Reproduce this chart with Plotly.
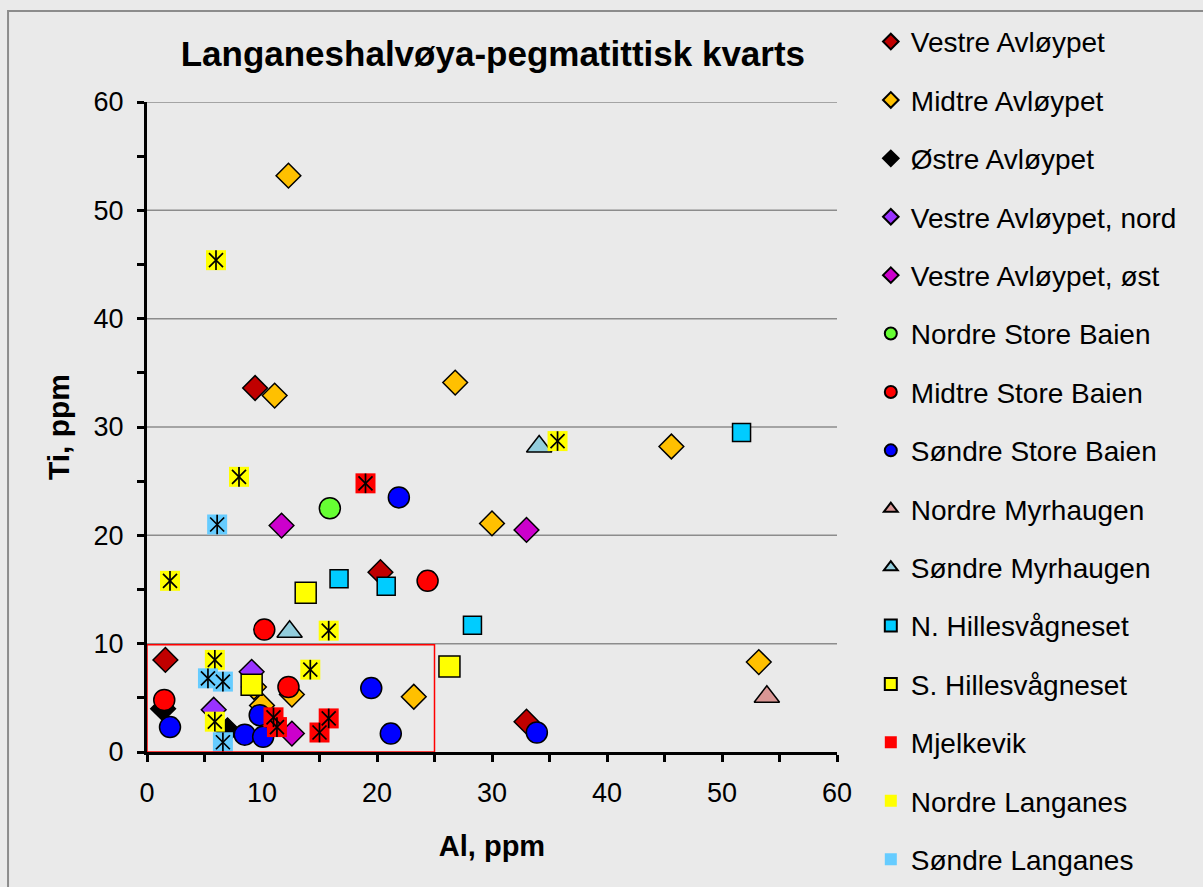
import plotly.graph_objects as go

# Al (x) and Ti (y), ppm, per locality
vestre_avl_x = [9.4, 20.3, 1.6, 33.0]
vestre_avl_y = [33.6, 16.6, 8.5, 2.8]

midtre_avl_x = [12.3, 11.1, 26.8, 45.6, 30.0, 53.2, 23.2, 9.3, 10.0, 12.6]
midtre_avl_y = [53.2, 32.9, 34.1, 28.2, 21.1, 8.3, 5.1, 6.0, 4.3, 5.3]

ostre_avl_x = [1.4, 7.0]
ostre_avl_y = [4.0, 2.0]

vestre_nord_x = [9.1, 5.8]
vestre_nord_y = [7.4, 3.9]

vestre_ost_x = [11.7, 33.0, 12.6]
vestre_ost_y = [20.9, 20.5, 1.7]

nordre_sb_x = [15.9]
nordre_sb_y = [22.5]

midtre_sb_x = [24.4, 10.2, 1.5, 12.3]
midtre_sb_y = [15.8, 11.3, 4.8, 6.0]

sondre_sb_x = [21.9, 19.5, 21.2, 33.9, 2.0, 8.5, 10.1, 9.8]
sondre_sb_y = [23.5, 5.9, 1.7, 1.8, 2.3, 1.6, 1.4, 3.4]

nordre_myr_x = [53.9]
nordre_myr_y = [5.1]

sondre_myr_x = [34.1, 12.4]
sondre_myr_y = [28.2, 11.1]

n_hilles_x = [51.7, 16.7, 20.8, 28.3]
n_hilles_y = [29.5, 16.0, 15.3, 11.7]

s_hilles_x = [13.8, 26.3, 9.1]
s_hilles_y = [14.7, 7.9, 6.2]

mjelkevik_x = [19.0, 11.0, 11.3, 15.8, 15.0]
mjelkevik_y = [24.8, 3.2, 2.3, 3.1, 1.8]

nordre_lang_x = [6.0, 8.0, 2.0, 35.7, 15.8, 5.9, 14.2, 5.9]
nordre_lang_y = [45.4, 25.4, 15.8, 28.7, 11.2, 8.5, 7.6, 2.8]

sondre_lang_x = [6.1, 5.3, 6.6, 6.6]
sondre_lang_y = [21.0, 6.8, 6.5, 0.9]

# ticks every 5, labels every 10
tick_vals = [0, 5, 10, 15, 20, 25, 30, 35, 40, 45, 50, 55, 60]
tick_text = ["0", "", "10", "", "20", "", "30", "", "40", "", "50", "", "60"]
grid_vals = [10, 20, 30, 40, 50, 60]
box_x = [0, 25]
box_y = [0, 9.9]

# name, x, y, symbol, colour, size, asterisk overlay
series = [
    ("Vestre Avløypet", vestre_avl_x, vestre_avl_y, "diamond", "#C00000", 19, False),
    ("Midtre Avløypet", midtre_avl_x, midtre_avl_y, "diamond", "#FFC000", 19, False),
    ("Østre Avløypet", ostre_avl_x, ostre_avl_y, "diamond", "#000000", 19, False),
    ("Vestre Avløypet, nord", vestre_nord_x, vestre_nord_y, "diamond", "#9933FF", 19, False),
    ("Vestre Avløypet, øst", vestre_ost_x, vestre_ost_y, "diamond", "#CC00CC", 19, False),
    ("Nordre Store Baien", nordre_sb_x, nordre_sb_y, "circle", "#66FF33", 21, False),
    ("Midtre Store Baien", midtre_sb_x, midtre_sb_y, "circle", "#FF0000", 21, False),
    ("Søndre Store Baien", sondre_sb_x, sondre_sb_y, "circle", "#0000FF", 21, False),
    ("Nordre Myrhaugen", nordre_myr_x, nordre_myr_y, "triangle-up", "#D99694", 22, False),
    ("Søndre Myrhaugen", sondre_myr_x, sondre_myr_y, "triangle-up", "#92CDDC", 22, False),
    ("N. Hillesvågneset", n_hilles_x, n_hilles_y, "square", "#00CCFF", 18, False),
    ("S. Hillesvågneset", s_hilles_x, s_hilles_y, "square", "#FFFF00", 21, False),
    ("Mjelkevik", mjelkevik_x, mjelkevik_y, "square", "#FF0000", 20, True),
    ("Nordre Langanes", nordre_lang_x, nordre_lang_y, "square", "#FFFF00", 20, True),
    ("Søndre Langanes", sondre_lang_x, sondre_lang_y, "square", "#66CCFF", 20, True),
]

fig = go.Figure()

# horizontal gridlines every 10 (drawn under the markers)
for g in grid_vals:
    fig.add_hline(y=g, line=dict(color="#8C8C8C", width=1.5), layer="below")

for name, xs, ys, symbol, color, size, star in series:
    fig.add_trace(go.Scatter(
        x=xs, y=ys, mode="markers", name=name, legendgroup=name,
        marker=dict(symbol=symbol, color=color, size=size,
                    line=dict(color="black", width=0 if star else 1.5)),
    ))
    if star:
        for s in ["x-thin-open", "line-ns-open"]:
            fig.add_trace(go.Scatter(
                x=xs, y=ys, mode="markers", legendgroup=name, showlegend=False,
                marker=dict(symbol=s, size=14, color="black",
                            line=dict(color="black", width=1.7)),
            ))

fig.add_shape(type="rect", xref="x", yref="y", x0=box_x[0], x1=box_x[1],
              y0=box_y[0], y1=box_y[1], line=dict(color="#FF0000", width=1.5),
              layer="above")

# outer chart border
fig.add_shape(type="rect", xref="paper", yref="paper",
              x0=-0.2014, x1=1.56, y0=-0.25, y1=1.14,
              line=dict(color="#8C8C8C", width=2))

font = "Liberation Sans, Arial, sans-serif"

axis_common = dict(
    range=[0, 60], tickmode="array", tickvals=tick_vals, ticktext=tick_text,
    zeroline=False, showgrid=False, tickfont=dict(size=27),
    showline=True, linecolor="black", linewidth=3,
    ticks="outside", ticklen=7, tickwidth=2.5, tickcolor="black",
)

fig.update_layout(
    width=1203, height=887,
    margin=dict(l=147, r=366, t=102, b=135, autoexpand=False),
    paper_bgcolor="#EAEAEA", plot_bgcolor="#EAEAEA",
    font=dict(family=font, color="black", size=26),
    title=dict(text="<b>Langaneshalvøya-pegmatittisk kvarts</b>",
               x=0.4097, xanchor="center", y=0.939, yanchor="middle",
               font=dict(size=35)),
    showlegend=True,
    legend=dict(x=1.049, xanchor="left", yref="container", y=0.981, yanchor="top",
                font=dict(size=28), tracegroupgap=19, itemsizing="constant",
                bgcolor="rgba(0,0,0,0)", maxheight=900),
    xaxis=dict(**axis_common, ticklabelstandoff=8,
               title=dict(text="<b>Al, ppm</b>", font=dict(size=29), standoff=29)),
    yaxis=dict(**axis_common, ticklabelstandoff=8,
               title=dict(text="<b>Ti, ppm</b>", font=dict(size=30), standoff=16)),
)

fig.write_html("out.html", config={"displayModeBar": False},
               post_script="document.body.style.margin='0';")
